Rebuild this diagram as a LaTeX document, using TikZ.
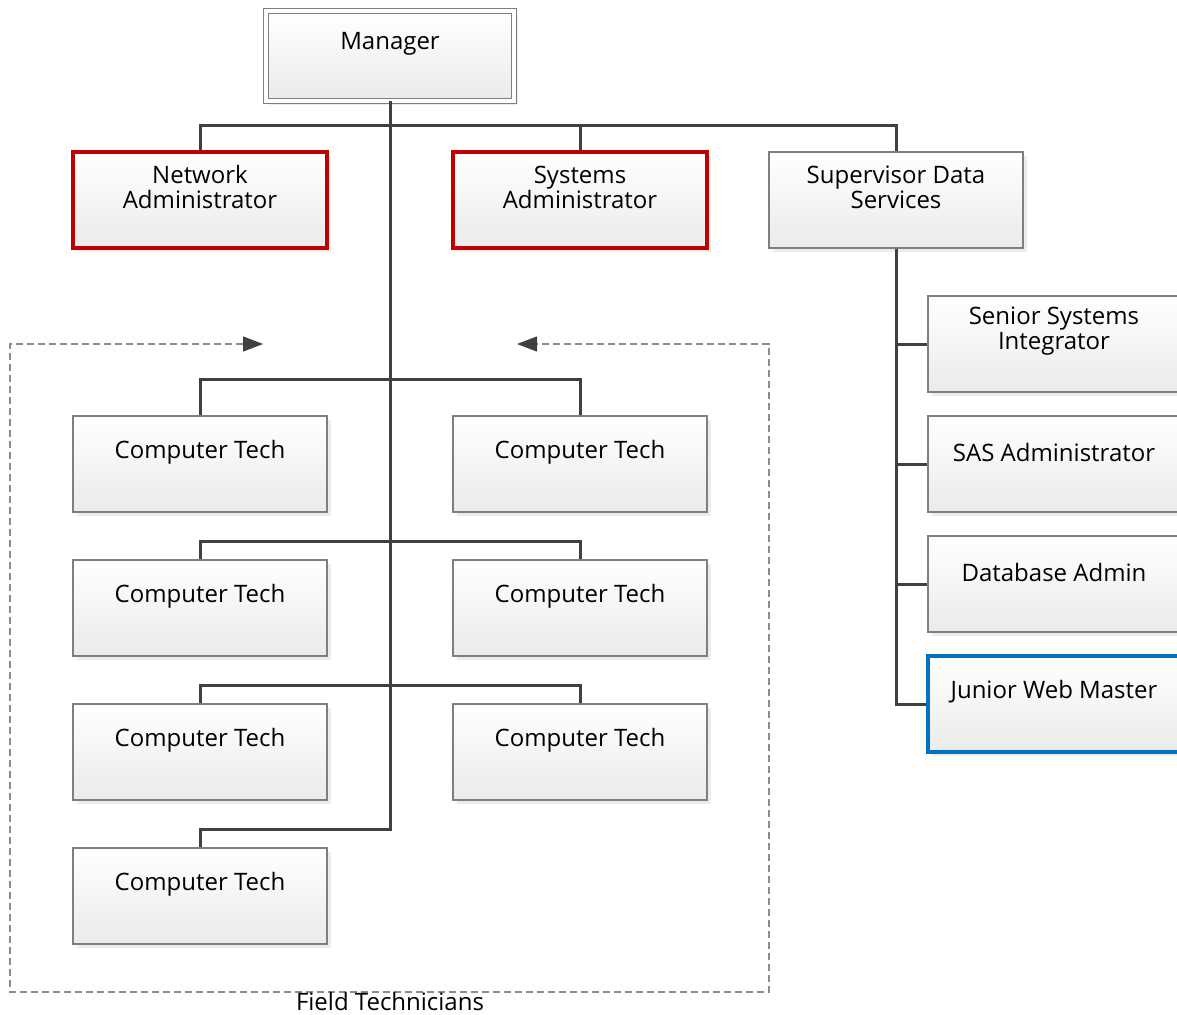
\documentclass[tikz,border=0pt]{standalone}
\usepackage{fontspec}
\setmainfont{Open Sans}
\usetikzlibrary{arrows.meta,shadows}
\definecolor{boxline}{HTML}{7F7F7F}
\definecolor{conncol}{HTML}{404040}
\definecolor{redb}{HTML}{C00000}
\definecolor{blueb}{HTML}{0070C0}
\definecolor{dashcol}{HTML}{8C8C8C}
\begin{document}
\begin{tikzpicture}[x=1pt,y=-1pt,
  box/.style={draw=boxline, line width=1.1pt, top color=white, bottom color=black!8,
    minimum width=254pt, minimum height=96pt, inner sep=0pt,
    drop shadow={shadow xshift=4pt, shadow yshift=-4pt, fill=black!12, opacity=0.6}},
  redbox/.style={box, draw=redb, line width=4pt},
  bluebox/.style={box, draw=blueb, line width=4pt},
  sidebox/.style={box, minimum width=252pt},
  mgrbox/.style={box, line width=0.9pt, double=white, double distance=4pt,
    minimum width=248pt, minimum height=90pt},
  txt/.style={font=\fontsize{24}{25}\selectfont, align=center, inner sep=0pt, text=black},
  conn/.style={draw=conncol, line width=3pt},
  dashline/.style={draw=dashcol, line width=1.2pt, dash pattern=on 7pt off 4pt},
  bothtips/.style={{Triangle[length=20pt,width=15pt,fill=conncol,color=conncol]}-{Triangle[length=20pt,width=15pt,fill=conncol,color=conncol]}}
]
\useasboundingbox (0,0) rectangle (1177,1014);
\clip (0,0) rectangle (1177,1014);

% boxes
\node[mgrbox] (mgr) at (390,56) {};
\node[redbox] (na) at (200,200) {};
\node[redbox] (sa) at (580,200) {};
\node[box] (sds) at (896,200) {};

\node[box] (ct1) at (200,464) {};
\node[box] (ct2) at (580,464) {};
\node[box] (ct3) at (200,608) {};
\node[box] (ct4) at (580,608) {};
\node[box] (ct5) at (200,752) {};
\node[box] (ct6) at (580,752) {};
\node[box] (ct7) at (200,896) {};

\node[sidebox] (ssi) at (1054,344) {};
\node[sidebox] (sas) at (1054,464) {};
\node[sidebox] (dba) at (1054,584) {};
\node[bluebox, minimum width=252pt] (jwm) at (1054,704) {};

% texts
\node[txt] (mgr-t) at ([yshift=12pt]mgr.center) {Manager};
\node[txt] (na-t) at ([yshift=13pt]na.center) {Network\\Administrator};
\node[txt] (sa-t) at ([yshift=13pt]sa.center) {Systems\\Administrator};
\node[txt] (sds-t) at ([yshift=13pt]sds.center) {Supervisor Data\\Services};
\foreach \n in {ct1,ct2,ct3,ct4,ct5,ct6,ct7}
  \node[txt] (\n-t) at ([yshift=12pt]\n.center) {Computer Tech};
\node[txt] (ssi-t) at ([yshift=13pt]ssi.center) {Senior Systems\\Integrator};
\node[txt] (sas-t) at ([yshift=12pt]sas.center) {SAS Administrator};
\node[txt] (dba-t) at ([yshift=12pt]dba.center) {Database Admin};
\node[txt] (jwm-t) at ([yshift=12pt]jwm.center) {Junior Web Master};

% connectors from manager
\draw[conn] (mgr.south) -- ++(0,24) -| (na.north);
\draw[conn] (mgr.south) -- ++(0,24) -| (sa.north);
\draw[conn] (mgr.south) -- ++(0,24) -| (sds.north);
\draw[conn] (mgr.south) |- ([yshift=18pt]ct7.north) -- (ct7.north);

% field technician rows
\draw[conn] (ct1.north) -- ++(0,-36) -| (ct2.north);
\draw[conn] (ct3.north) -- ++(0,-18) -| (ct4.north);
\draw[conn] (ct5.north) -- ++(0,-18) -| (ct6.north);

% supervisor branch
\draw[conn] (sds.south) |- (ssi.west);
\draw[conn] (sds.south) |- (sas.west);
\draw[conn] (sds.south) |- (dba.west);
\draw[conn] (sds.south) |- (jwm.west);

% field technicians group
\coordinate (ftL) at (263,344);
\coordinate (ftR) at (517,344);
\draw[dashline, bothtips] (ftL) -- (10,344) -- (10,992) -- (769,992) -- (769,344) -- (ftR);
\node[txt] (ft-t) at (390,1001) {Field Technicians};
\end{tikzpicture}
\end{document}
